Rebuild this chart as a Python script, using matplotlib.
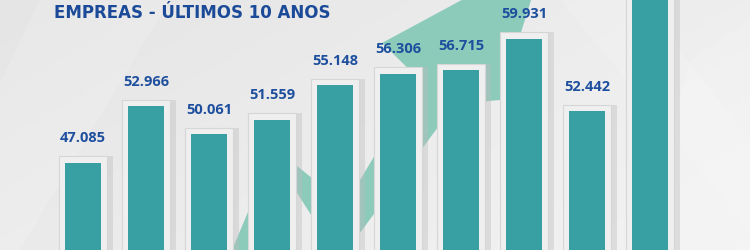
import numpy as np
import matplotlib
matplotlib.use("Agg")
import matplotlib.pyplot as plt
from matplotlib.patches import Polygon

plt.rcParams['font.family'] = ['Open Sans', 'DejaVu Sans']

# data (number of companies, last bar runs off the top of the picture)
years = list(range(10))
empresas = [47085, 52966, 50061, 51559, 55148, 56306, 56715, 59931, 52442, 66000]
title = "EMPREAS - ÚLTIMOS 10 ANOS"

W, H = 750, 250
fig = plt.figure(figsize=(7.5, 2.5), dpi=100)

# === background: soft grey gradient with light diagonal streaks ===
ax_bg = fig.add_axes([0, 0, 1, 1])
gx = np.linspace(0, 1, 300)
gy = np.linspace(0, 1, 100)
GX, GY = np.meshgrid(gx, gy)
grad = 0.895 + 0.035 * GX + 0.02 * GY
ax_bg.imshow(grad, cmap='gray', vmin=0, vmax=1, extent=[0, W, H, 0], aspect='auto')
for pts in ([(40, 0), (170, 0), (20, 250), (-80, 250)],
            [(560, 0), (640, 0), (750, 140), (750, 230)],
            [(690, 60), (750, 20), (750, 250), (640, 250)]):
    ax_bg.add_patch(Polygon(pts, closed=True, color='white', alpha=0.15, lw=0))

# growth arrow behind the bars (pixel coords, y down)
arrow = [(232, 250), (275, 148), (345, 205), (420, 80), (382, 43), (545, -45),
         (500, 100), (455, 104), (340, 260), (290, 182), (262, 255)]
ax_bg.add_patch(Polygon(arrow, closed=True, color='#82c7b5', alpha=0.9, lw=0))
ax_bg.set_xlim(0, W)
ax_bg.set_ylim(H, 0)
ax_bg.axis('off')

# === bars ===
ax = fig.add_axes([0, 0, 1, 1])
ax.patch.set_alpha(0)
ymin, ymax = 38060, 63970
ax.set_ylim(ymin, ymax)
ax.set_xlim(-83 / 63, (W - 83) / 63)
ax.axis('off')

unit = (ymax - ymin) / H  # data units per pixel
pad = 6.5 * unit
x = np.array(years)
v = np.array(empresas)

ax.bar(x + 0.06, v + pad - ymin, bottom=ymin, width=0.82, color='#bdbdbd', alpha=0.4, lw=0, zorder=2)
ax.bar(x, v + pad - ymin, bottom=ymin, width=0.77, color='#efefef', edgecolor='#d6d6d6', lw=0.8, zorder=3)
ax.bar(x, v - ymin, bottom=ymin, width=0.58, color='#38a0a3', lw=0, zorder=4)

for xi, vi in zip(x, v):
    ty = vi + pad + 11 * unit
    if ty + 12 * unit < ymax:
        ax.text(xi, ty, f"{vi:,}".replace(",", "."), ha='center', va='bottom',
                fontsize=10.5, fontweight='bold', color='#1d4f9e', zorder=5)

fig.text(54 / W, 1 - 17.5 / H, title, ha='left', va='baseline',
         fontsize=12, fontweight='bold', color='#1b4a98',
         family=['DejaVu Sans'])

fig.savefig('out.png', dpi=100)
